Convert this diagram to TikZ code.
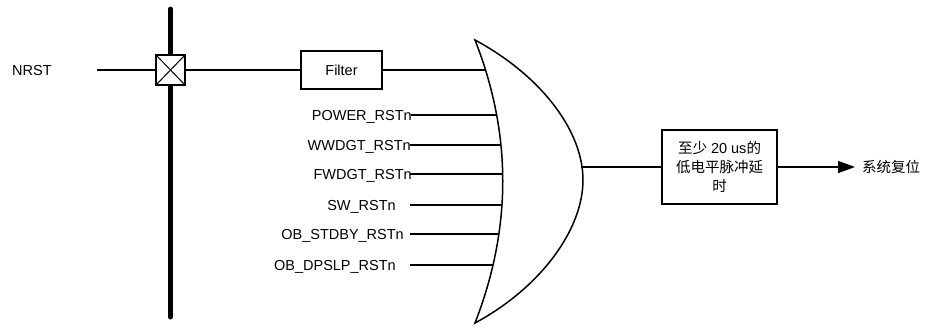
\documentclass[tikz,border=0pt]{standalone}
\usepackage{fontspec}
\setmainfont{Liberation Sans}
\newfontfamily\cjk{Noto Sans CJK SC}
\usetikzlibrary{arrows.meta}
\begin{document}
\begin{tikzpicture}[x=1pt,y=-1pt]
            \tikzstyle{every node}=[font=\fontsize{14.5}{19}\selectfont, text=black, inner sep=0pt]
            \tikzstyle{wire}=[black, line width=1.5pt]
            \tikzstyle{blk}=[draw=black, line width=1.5pt, fill=white]
            \tikzstyle{sig}=[anchor=base east]

            \useasboundingbox (0,0) rectangle (930,327);

            \node[anchor=base west] (nrst) at (12,75) {NRST};
            \coordinate (nin) at (97,70);
            \coordinate (bustop) at (170.5,9);
            \coordinate (busbot) at (170.5,317);
            \draw[line width=5pt, line cap=round] (bustop) -- (busbot);
            \node[blk, minimum width=29pt, minimum height=30pt] (pad) at (170.5,70) {};
            \draw[line width=1pt] (pad.north west) -- (pad.south east) (pad.north east) -- (pad.south west);
            \node[blk, minimum width=81pt, minimum height=38pt] (filter) at (341.5,70) {Filter};

            \node[sig] (power) at (412,120) {POWER\_RSTn};
            \node[sig] (wwdgt) at (411,150) {WWDGT\_RSTn};
            \node[sig] (fwdgt) at (412,179) {FWDGT\_RSTn};
            \node[sig] (sw) at (396,210) {SW\_RSTn};
            \node[sig] (stdby) at (404,239) {OB\_STDBY\_RSTn};
            \node[sig] (dpslp) at (396,270) {OB\_DPSLP\_RSTn};

            \coordinate (s1) at (411,115);
            \coordinate (s2) at (410,145);
            \coordinate (s3) at (410,174);
            \coordinate (s4) at (410,205);
            \coordinate (s5) at (410,234);
            \coordinate (s6) at (410,265);
            \coordinate (g0) at (510,70);
            \coordinate (g1) at (510,115);
            \coordinate (g2) at (510,145);
            \coordinate (g3) at (510,174);
            \coordinate (g4) at (510,205);
            \coordinate (g5) at (510,234);
            \coordinate (g6) at (510,265);

            \draw[wire] (nin) -- (pad.west);
            \draw[wire] (pad.east) -- (filter.west);
            \draw[wire] (filter.east) -- (g0);
            \draw[wire] (s1) -- (g1);
            \draw[wire] (s2) -- (g2);
            \draw[wire] (s3) -- (g3);
            \draw[wire] (s4) -- (g4);
            \draw[wire] (s5) -- (g5);
            \draw[wire] (s6) -- (g6);

            \draw[blk] (475,40) .. controls (512,134) and (512,228) .. (475,323)
              .. controls (540,288) and (583,230) .. (583,180)
              .. controls (583,130) and (540,75) .. (475,40) -- cycle;
            \coordinate (gout) at (581,167);

            \node[blk, minimum width=115pt, minimum height=74pt, align=center] (delay) at (719.5,167)
              {{\cjk 至少} 20 us{\cjk 的}\\{\cjk 低电平脉冲延}\\{\cjk 时}};
            \coordinate (outtip) at (855,167);
            \node[anchor=west] (reset) at (862,167) {\cjk 系统复位};

            \draw[wire] (gout) -- (delay.west);
            \draw[wire, -{Triangle[length=17pt,width=12pt]}] (delay.east) -- (outtip);
          \end{tikzpicture}
\end{document}
